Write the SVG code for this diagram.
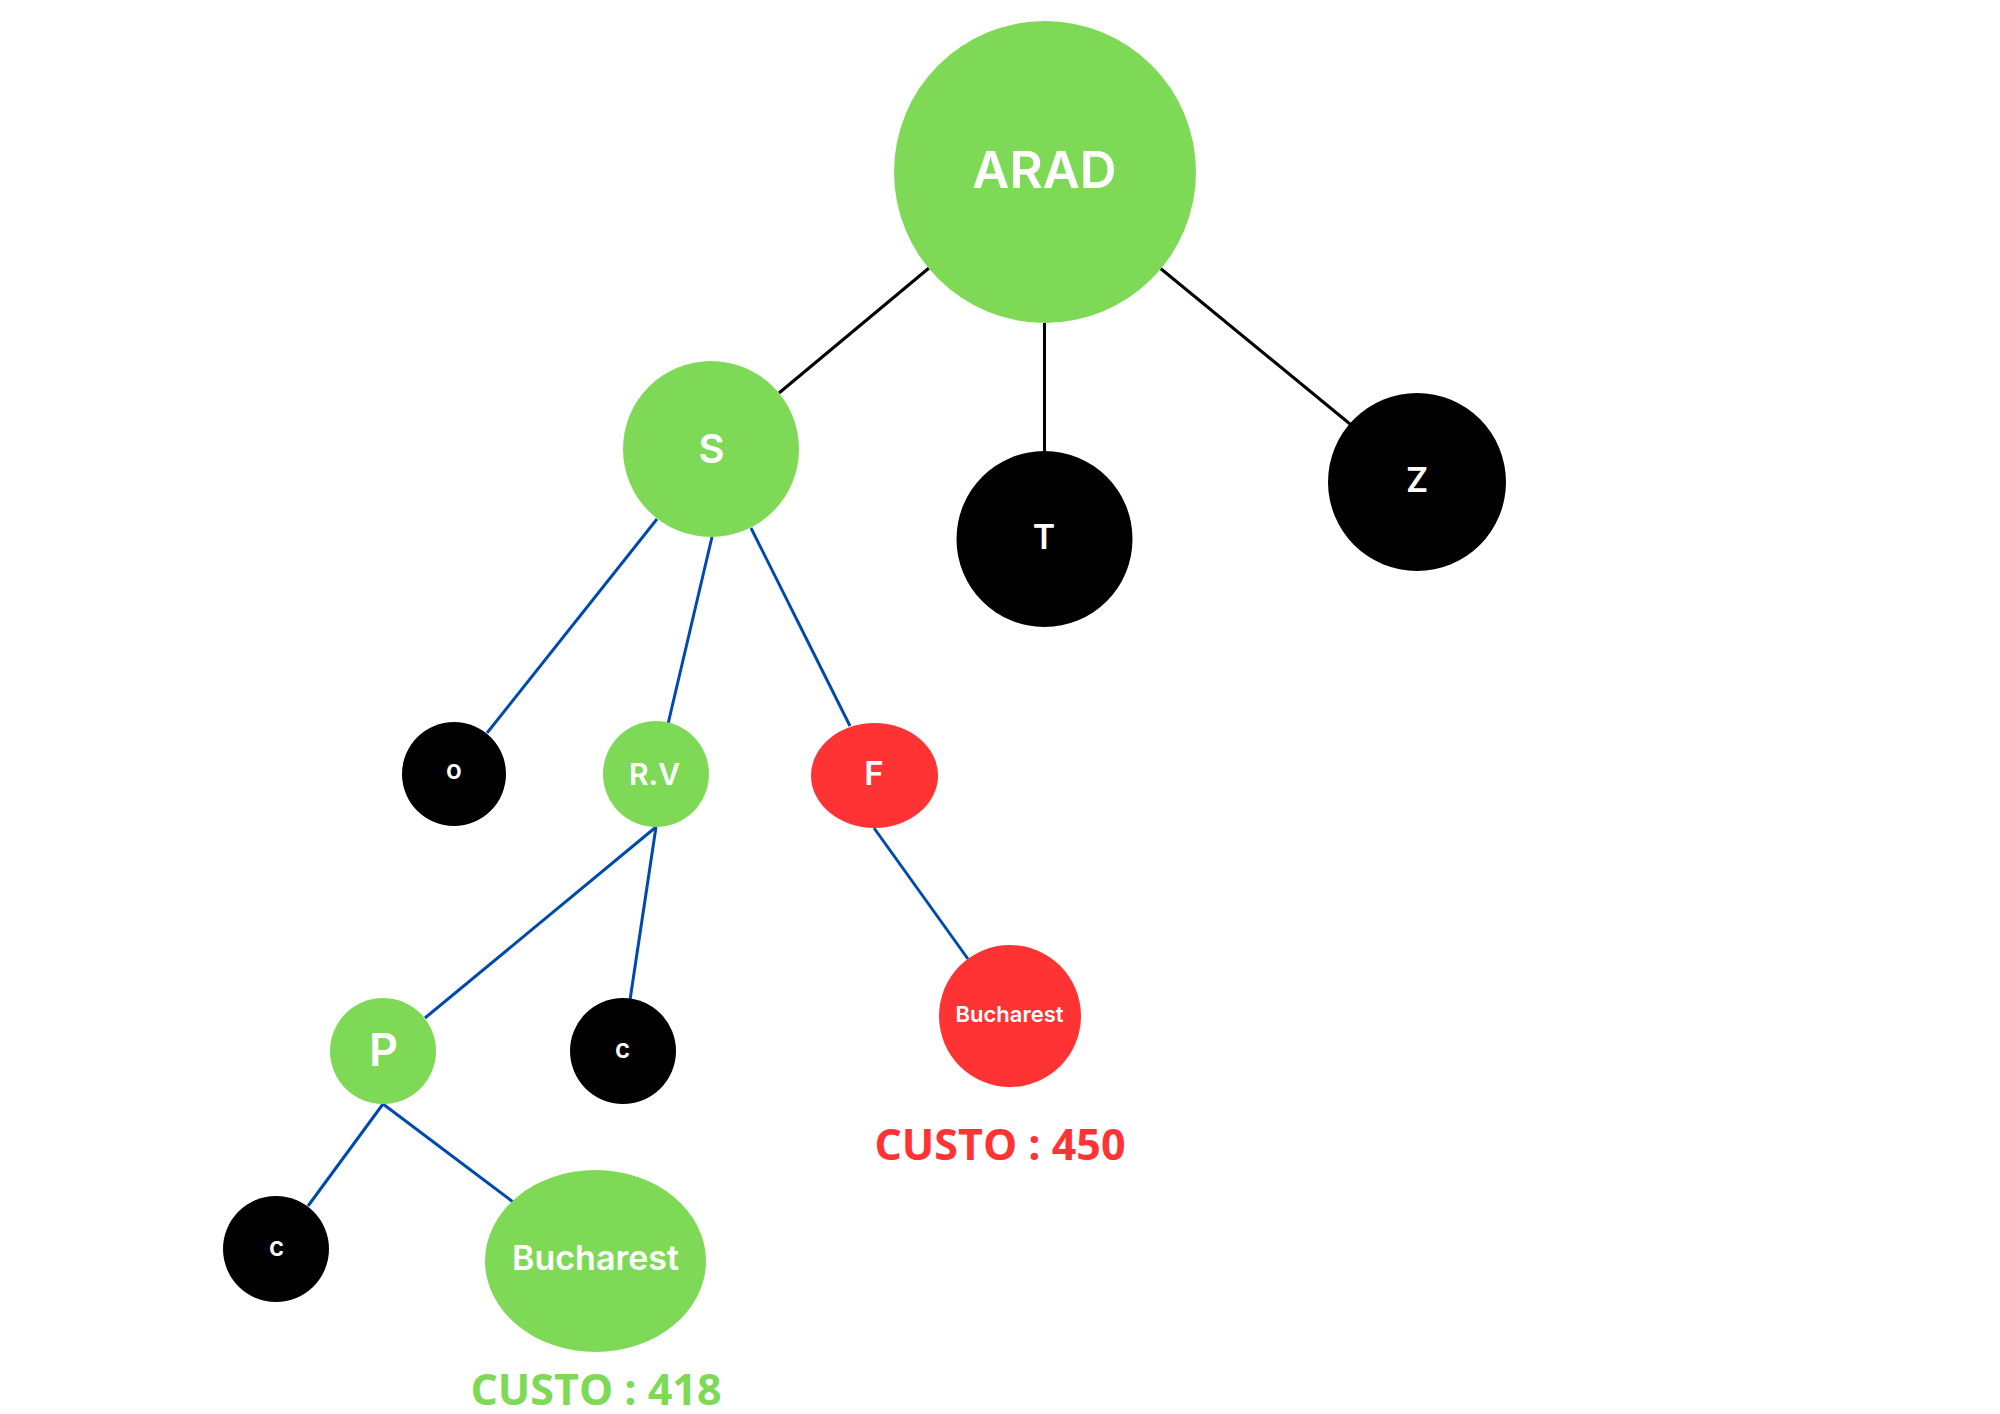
<svg xmlns="http://www.w3.org/2000/svg" width="2000" height="1414" viewBox="0 0 2000 1414">
  <style>
    .green { fill: #7ED957; }
    .red { fill: #FF3333; }
    .black { fill: #000000; }
    .lbl { font-family: Inter, "Liberation Sans", sans-serif; font-weight: 600; fill: #FFFFFF; text-anchor: middle; }
    .cost { font-family: "Open Sans", "Liberation Sans", sans-serif; font-weight: 700; text-anchor: middle; }
    .edge-top { stroke: #000000; stroke-width: 3; fill: none; }
    .edge { stroke: #004AAD; stroke-width: 3; fill: none; }
  </style>

  <!-- connectors -->
  <g id="connectors">
    <line class="edge-top" x1="929" y1="268" x2="779" y2="393"/>
    <line class="edge-top" x1="1044.5" y1="323" x2="1044.5" y2="451"/>
    <line class="edge-top" x1="1160" y1="268" x2="1350" y2="424"/>
    <line class="edge" x1="657" y1="519" x2="487" y2="733"/>
    <line class="edge" x1="712" y1="537" x2="668" y2="724"/>
    <line class="edge" x1="751" y1="528" x2="850" y2="726"/>
    <line class="edge" x1="874" y1="828" x2="968" y2="959"/>
    <line class="edge" x1="656" y1="827" x2="425" y2="1018"/>
    <line class="edge" x1="656" y1="827" x2="630" y2="1000"/>
    <line class="edge" x1="383" y1="1104" x2="308" y2="1206"/>
    <line class="edge" x1="383" y1="1104" x2="513" y2="1202"/>
  </g>

  <g id="arad">
    <circle class="green" cx="1045" cy="172" r="151"/>
    <text class="lbl" x="1044.5" y="188" font-size="51" font-weight="500">ARAD</text>
  </g>
  <g id="s">
    <circle class="green" cx="711" cy="449" r="88"/>
    <text class="lbl" x="711.5" y="463" font-size="40" font-weight="700">S</text>
  </g>
  <g id="t">
    <circle class="black" cx="1044.5" cy="539" r="88"/>
    <text class="lbl" x="1044" y="549" font-size="34">T</text>
  </g>
  <g id="z">
    <circle class="black" cx="1417" cy="482" r="89"/>
    <text class="lbl" x="1417" y="492" font-size="34">Z</text>
  </g>
  <g id="o">
    <circle class="black" cx="454" cy="774" r="52"/>
    <text class="lbl" x="454" y="779" font-size="26" font-weight="500">o</text>
  </g>
  <g id="rv">
    <circle class="green" cx="656" cy="774" r="53"/>
    <text class="lbl" x="654.5" y="785" font-size="30">R.V</text>
  </g>
  <g id="f">
    <ellipse class="red" cx="874.5" cy="775.5" rx="63.5" ry="52.5"/>
    <text class="lbl" x="874" y="785" font-size="33" font-weight="500">F</text>
  </g>
  <g id="bucharest-f">
    <circle class="red" cx="1010" cy="1016" r="71"/>
    <text class="lbl" x="1009.5" y="1022" font-size="22">Bucharest</text>
  </g>
  <text class="cost" x="1000" y="1160" font-size="43" fill="#FF3333">CUSTO : 450</text>
  <g id="p">
    <circle class="green" cx="383" cy="1051" r="53"/>
    <text class="lbl" x="383.5" y="1066" font-size="45" font-weight="500">P</text>
  </g>
  <g id="c-rv">
    <circle class="black" cx="623" cy="1051" r="53"/>
    <text class="lbl" x="622.5" y="1058" font-size="26" font-weight="500">c</text>
  </g>
  <g id="c-p">
    <circle class="black" cx="276" cy="1249" r="53"/>
    <text class="lbl" x="276.5" y="1256" font-size="26" font-weight="500">c</text>
  </g>
  <g id="bucharest-p">
    <ellipse class="green" cx="595.5" cy="1261" rx="110.5" ry="91"/>
    <text class="lbl" x="595.5" y="1270" font-size="34">Bucharest</text>
  </g>
  <text class="cost" x="596" y="1405" font-size="43" fill="#7ED957">CUSTO : 418</text>
</svg>
